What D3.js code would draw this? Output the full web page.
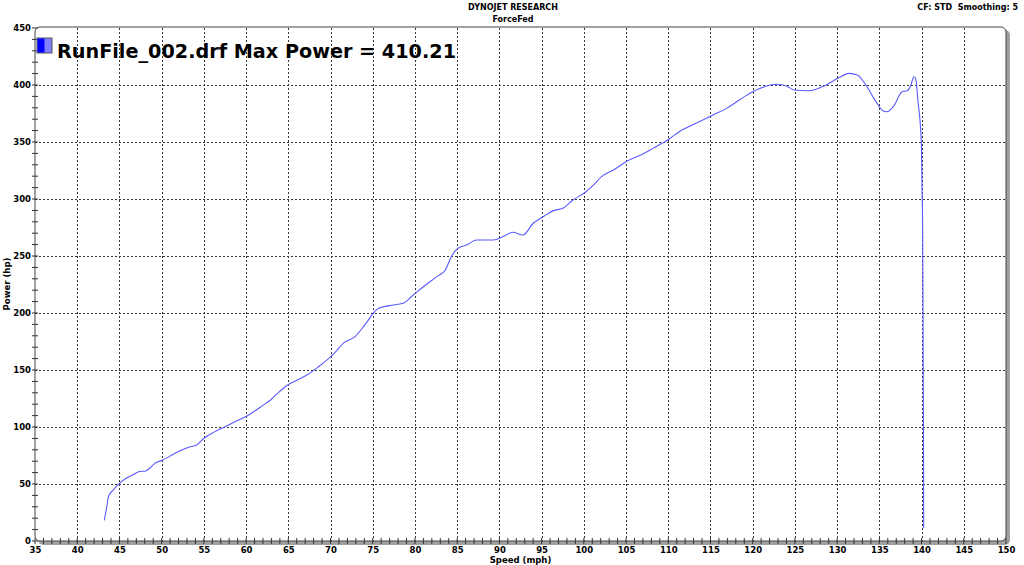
<!DOCTYPE html>
<html>
<head>
<meta charset="utf-8">
<script src="https://cdn.jsdelivr.net/npm/d3@7"></script>
<style>
  body { margin: 0; background: #fff; }
  text { font-family: "DejaVu Sans", Verdana, sans-serif; font-weight: bold; white-space: pre; }
</style>
</head>
<body>
<div id="mainDiv"></div>
<script>
'use strict';

// speed (mph) and power (hp)
var speed = [43.2, 43.5, 43.7, 44.3, 45.0, 45.8, 46.7, 47.4, 48.1, 48.6, 49.3, 50.0, 50.9, 51.8, 52.6, 53.4, 54.1, 55.0,
    56.2, 57.5, 58.8, 60.1, 60.9, 61.9, 62.9, 63.8, 64.8, 66.0, 67.2, 68.5, 69.8, 70.6, 71.5, 72.9, 73.9, 74.5, 75.1,
    75.7, 77.0, 78.6, 79.8, 81.4, 82.6, 83.6, 84.3, 85.1, 86.1, 87.3, 89.3, 90.4, 91.6, 92.8, 94.0, 95.2, 96.4, 97.5,
    98.7, 100.1, 101.1, 102.1, 103.5, 105.0, 107.0, 108.2, 110.1, 111.3, 113.3, 115.3, 116.9, 118.4, 120.0, 121.4,
    122.8, 124.0, 124.9, 126.7, 128.5, 130.1, 131.4, 132.4, 133.4, 134.6, 135.4, 135.9, 136.7, 137.7, 138.3, 138.7,
    139.1, 139.3, 139.6, 139.84, 139.99, 140.05, 140.13, 140.2, 140.23, 140.25];
var power = [18, 30, 39, 45, 50.6, 55, 58.5, 61, 61.4, 64, 68.7, 70.5, 74, 77.8, 80.5, 82.7, 84, 90.1,
    95.5, 100.3, 105, 109.6, 113.4, 118.5, 123.7, 130, 136.2, 141, 145.6, 152.5, 160.2, 166, 173.4, 179.2, 188, 194, 200.3,
    204.1, 206.5, 208.5, 215.8, 225.4, 231.9, 237.7, 249.4, 256.8, 259.6, 264, 264, 266.9, 270.8, 268.4, 278.7, 284.5, 289.8, 291.8,
    299.1, 305.5, 312, 319.6, 325.4, 332.7, 339.5, 344.4, 352.6, 359, 366.4, 373.7, 379.5, 386.8, 394.1, 398.5,
    400.6, 399.1, 395.6, 395, 399.4, 405.9, 410.2, 408.8, 400, 385.4, 377.5, 376.6, 381.6, 394.1, 395, 399.1,
    407.3, 405.9, 384, 366.4, 344.5, 310.8, 272.8, 141, 82.7, 11.3];

var xTicks = d3.range(35, 151, 5);
var xMinorTicks = d3.range(35, 151, 1);
var yTicks = d3.range(0, 451, 50);
var yMinorTicks = d3.range(0, 451, 10);

var titleLines = ['DYNOJET RESEARCH', 'ForceFed'];
var cornerNote = 'CF: STD  Smoothing: 5';
var legendLabel = 'RunFile_002.drf Max Power = 410.21';
var xTitle = 'Speed (mph)';
var yTitle = 'Power (hp)';

var W = 1024, H = 565;
var m = { left: 35, right: 1006, top: 27, bottom: 541 };

var svg = d3.select('#mainDiv').append('svg')
    .attr('width', W)
    .attr('height', H);

var x = d3.scaleLinear().domain([35, 150]).range([m.left, m.right]);
var y = d3.scaleLinear().domain([0, 450]).range([m.bottom, m.top + 1]);

// frame shadow + frame
svg.append('rect')
    .attr('x', m.left + 3).attr('y', m.top + 3)
    .attr('width', m.right - m.left + 1).attr('height', m.bottom - m.top + 1)
    .attr('rx', 5)
    .attr('fill', '#a0a0a0');
svg.append('rect')
    .attr('x', m.left).attr('y', m.top)
    .attr('width', m.right - m.left).attr('height', m.bottom - m.top)
    .attr('rx', 5)
    .attr('fill', '#fff')
    .attr('stroke', '#444')
    .attr('stroke-width', 1);

// grid
var grid = svg.append('g').attr('stroke', '#333').attr('stroke-width', 1).attr('stroke-dasharray', '2,2');
grid.selectAll('line.v').data(xTicks.filter(function (d) { return d > 35 && d < 150; }))
    .enter().append('line')
    .attr('x1', function (d) { return Math.round(x(d)) + 0.5; })
    .attr('x2', function (d) { return Math.round(x(d)) + 0.5; })
    .attr('y1', m.top + 1).attr('y2', m.bottom);
grid.selectAll('line.h').data(yTicks.filter(function (d) { return d > 0 && d < 450; }))
    .enter().append('line')
    .attr('y1', function (d) { return Math.round(y(d)) + 0.5; })
    .attr('y2', function (d) { return Math.round(y(d)) + 0.5; })
    .attr('x1', m.left).attr('x2', m.right);

// axes
var xAxis = d3.axisBottom(x).tickValues(xTicks).tickSize(0).tickPadding(4);
var xg = svg.append('g').attr('transform', 'translate(0,' + m.bottom + ')').call(xAxis);
xg.select('.domain').remove();
xg.selectAll('text').attr('font-size', '8.5px').attr('fill', '#000').attr('dy', '0.9em');

var yAxis = d3.axisLeft(y).tickValues(yTicks).tickSize(0).tickPadding(4);
var yg = svg.append('g').attr('transform', 'translate(' + m.left + ',0)').call(yAxis);
yg.select('.domain').remove();
yg.selectAll('text').attr('font-size', '8.5px').attr('fill', '#000');

// minor ticks crossing the axes
svg.append('g').selectAll('line').data(xMinorTicks).enter().append('line')
    .attr('x1', function (d) { return x(d); }).attr('x2', function (d) { return x(d); })
    .attr('y1', m.bottom - 3).attr('y2', m.bottom + 3)
    .attr('stroke', '#333');
svg.append('g').selectAll('line').data(yMinorTicks).enter().append('line')
    .attr('y1', function (d) { return y(d); }).attr('y2', function (d) { return y(d); })
    .attr('x1', m.left - 3).attr('x2', m.left + 3)
    .attr('stroke', '#333');

// power curve
var line = d3.line()
    .x(function (d, i) { return x(speed[i]); })
    .y(function (d) { return y(d); })
    .curve(d3.curveMonotoneX);
svg.append('path')
    .datum(power)
    .attr('d', line)
    .attr('fill', 'none')
    .attr('stroke', '#5a5aff')
    .attr('stroke-width', 1.1);

// legend
svg.append('rect').attr('x', 37).attr('y', 38).attr('width', 15).attr('height', 15)
    .attr('fill', '#8080ff').attr('stroke', '#555');
svg.append('rect').attr('x', 37.5).attr('y', 38.5).attr('width', 7).attr('height', 14)
    .attr('fill', '#0000ff');
svg.append('text').attr('x', 57).attr('y', 58)
    .attr('font-size', '20px')
    .attr('textLength', 399).attr('lengthAdjust', 'spacingAndGlyphs')
    .text(legendLabel);

// titles
svg.selectAll('text.title').data(titleLines).enter().append('text')
    .attr('x', 513).attr('y', function (d, i) { return 10 + i * 12; })
    .attr('text-anchor', 'middle').attr('font-size', '8px')
    .text(function (d) { return d; });
svg.append('text').attr('x', 1018).attr('y', 10)
    .attr('text-anchor', 'end').attr('font-size', '8px')
    .text(cornerNote);
svg.append('text').attr('x', (m.left + m.right) / 2).attr('y', 563)
    .attr('text-anchor', 'middle').attr('font-size', '8.5px')
    .text(xTitle);
svg.append('text').attr('transform', 'translate(10,' + ((m.top + m.bottom) / 2) + ') rotate(-90)')
    .attr('text-anchor', 'middle').attr('font-size', '8.5px')
    .text(yTitle);
</script>
</body>
</html>
